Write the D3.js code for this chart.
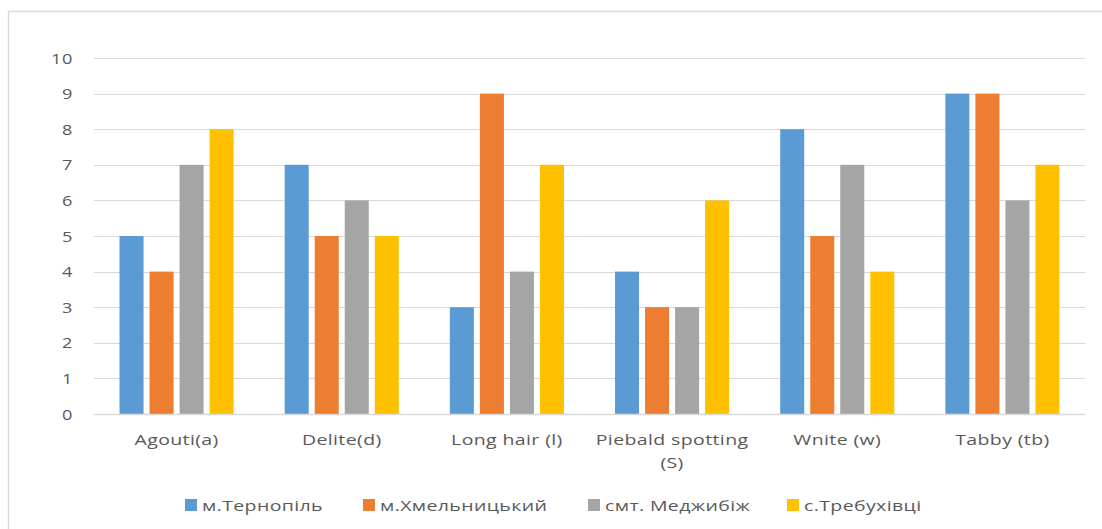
<!DOCTYPE html>
<html>
<head>
<meta charset="utf-8">
<script src="https://cdn.jsdelivr.net/npm/d3@7"></script>
<style>
  html, body { margin: 0; padding: 0; background: #fff; }
  svg { display: block; }
  text { font-family: "Open Sans", "Noto Sans", sans-serif; fill: #595959; }
</style>
</head>
<body>
<svg id="chart" width="1102" height="529"></svg>
<script>
// Gene frequencies by locality
const categories = ["Agouti(a)", "Delite(d)", "Long hair (l)", "Piebald spotting (S)", "Wnite (w)", "Tabby (tb)"];
const seriesNames = ["м.Тернопіль", "м.Хмельницький", "смт. Меджибіж", "с.Требухівці"];
const ternopil     = [5, 7, 3, 4, 8, 9];
const khmelnytskyi = [4, 5, 9, 3, 5, 9];
const medzhybizh   = [7, 6, 4, 3, 7, 6];
const trebukhivtsi = [8, 5, 7, 6, 4, 7];
const seriesValues = [ternopil, khmelnytskyi, medzhybizh, trebukhivtsi];
const yTicks = [0, 1, 2, 3, 4, 5, 6, 7, 8, 9, 10];
const colors = ["#5B9BD5", "#ED7D31", "#A5A5A5", "#FFC000"];

const svg = d3.select("#chart");

// wide-set label: text drawn at (x, y) and stretched horizontally
function wideText(parent, x, y, str, opts) {
  const g = parent.append("g")
    .attr("transform", `translate(${x},${y}) scale(${opts.sx},1)`);
  return g.append("text")
    .attr("text-anchor", opts.anchor || "start")
    .attr("dy", opts.dy || 0)
    .style("font-size", opts.size + "px")
    .style("letter-spacing", (opts.ls || 0) + "px")
    .text(str);
}

// outer chart frame
svg.append("rect")
  .attr("x", 8.5).attr("y", 11.5)
  .attr("width", 1120).attr("height", 540)
  .attr("fill", "none").attr("stroke", "#d9d9d9").attr("stroke-width", 1.5);

const plot = { left: 94, right: 1085, top: 58, bottom: 414 };

const y = d3.scaleLinear().domain([0, 10]).range([plot.bottom, plot.top]);
const x0 = d3.scaleBand().domain(categories).range([plot.left, plot.right]);
const x1 = d3.scaleBand().domain(d3.range(seriesNames.length))
  .range([0, x0.bandwidth()]).paddingInner(0.2).paddingOuter(0.85);

// gridlines
svg.append("g")
  .selectAll("line").data(yTicks).join("line")
  .attr("x1", plot.left).attr("x2", plot.right)
  .attr("y1", d => Math.round(y(d)) + 0.5).attr("y2", d => Math.round(y(d)) + 0.5)
  .attr("stroke", "#d9d9d9").attr("stroke-width", 1);

// y axis (ticks positioned by the axis generator, labels re-set wide)
const yAxis = d3.axisLeft(y).tickValues(yTicks).tickSize(0).tickPadding(0);
const gy = svg.append("g").attr("transform", `translate(73,0)`).call(yAxis);
gy.select(".domain").remove();
gy.selectAll(".tick text").remove();
gy.selectAll(".tick").each(function (d) {
  wideText(d3.select(this), 0, 0, String(d),
    { sx: 1.3, size: 14, anchor: "end", dy: "0.36em", ls: 0.5 });
});

// bars
const groups = svg.append("g").selectAll("g").data(categories).join("g")
  .attr("transform", d => `translate(${x0(d)},0)`);
groups.selectAll("rect")
  .data((d, i) => seriesValues.map((vals, s) => ({ s, v: vals[i] })))
  .join("rect")
  .attr("x", d => x1(d.s))
  .attr("width", x1.bandwidth())
  .attr("y", d => y(d.v))
  .attr("height", d => y(0) - y(d.v))
  .attr("fill", d => colors[d.s]);

// category axis
const xAxis = d3.axisBottom(x0).tickSize(0).tickPadding(0);
const gx = svg.append("g").attr("transform", `translate(0,${plot.bottom})`).call(xAxis);
gx.select(".domain").attr("stroke", "#d9d9d9").attr("stroke-width", 1.5);
gx.selectAll(".tick text").remove();
const catLabels = svg.append("g");
categories.forEach(c => {
  const cx = x0(c) + x0.bandwidth() / 2;
  const lines = c === "Piebald spotting (S)" ? ["Piebald spotting", "(S)"] : [c];
  lines.forEach((ln, k) => {
    wideText(catLabels, cx, 445 + k * 23, ln,
      { sx: 1.3, size: 15, anchor: "middle", ls: 0.3 });
  });
});

// legend
const legendX = [185, 363, 588, 787];
const legend = svg.append("g");
seriesNames.forEach((n, i) => {
  legend.append("rect")
    .attr("x", legendX[i]).attr("y", 499).attr("width", 12).attr("height", 12)
    .attr("fill", colors[i]);
  wideText(legend, legendX[i] + 17, 511, n, { sx: 1.3, size: 15, ls: 0.3 });
});
</script>
</body>
</html>
